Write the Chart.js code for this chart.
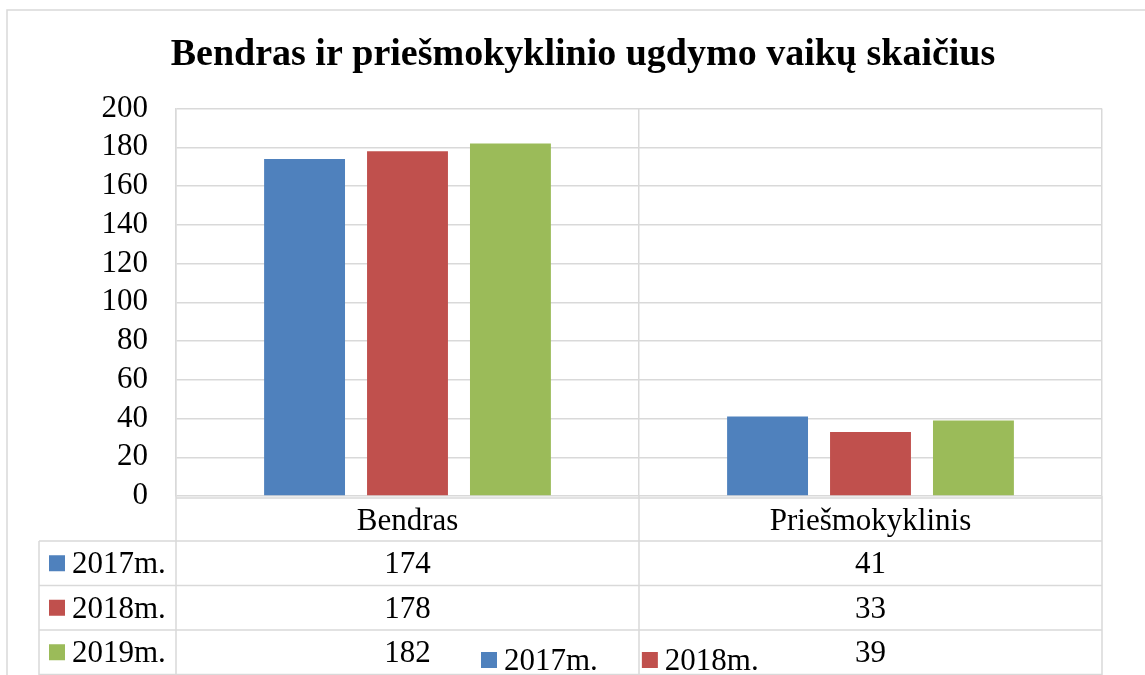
<!DOCTYPE html>
<html>
<head>
<meta charset="utf-8">
<script src="https://cdn.jsdelivr.net/npm/chart.js@4"></script>
<style>
  html, body { margin: 0; padding: 0; background: #fff; }
  #wrap { width: 1145px; height: 675px; }
</style>
</head>
<body>
<div id="wrap"><canvas id="chart" width="1145" height="675"></canvas></div>
<script>
// ---------- Data ----------
const categories = ["Bendras", "Priešmokyklinis"];
const years = ["2017m.", "2018m.", "2019m."];
const values2017 = [174, 41];
const values2018 = [178, 33];
const values2019 = [182, 39];
const yMin = 0, yMax = 200, yStep = 20;
const titleText = "Bendras ir priešmokyklinio ugdymo vaikų skaičius";

const colors = ["#4F81BD", "#C0504D", "#9BBB59"];
const gridColor = "#d9d9d9";
const serif = "'Liberation Serif', 'Times New Roman', serif";
const textSize = 31;

// ---------- Data table + frame plugin ----------
const tablePlugin = {
  id: "dataTable",
  beforeDraw(chart) {
    const ctx = chart.ctx;
    ctx.save();
    ctx.fillStyle = "#fff";
    ctx.fillRect(0, 0, chart.width, chart.height);
    ctx.strokeStyle = gridColor;
    ctx.lineWidth = 1.5;
    ctx.beginPath();
    ctx.moveTo(7, chart.height);
    ctx.lineTo(7, 10);
    ctx.lineTo(chart.width, 10);
    ctx.stroke();
    ctx.restore();
  },
  afterDraw(chart) {
    const ctx = chart.ctx;
    const area = chart.chartArea;
    const xs = chart.scales.x;
    const ds = chart.data.datasets;
    const bottom = chart.height;
    const tableTop = area.bottom + 2;
    const headerH = 43;
    const rowH = 44.5;
    const tableLeft = 39;
    const textDy = 2;
    const centers = categories.map((c, i) => xs.getPixelForValue(i));
    const bounds = [area.left];
    for (let i = 0; i < centers.length - 1; i++) bounds.push((centers[i] + centers[i + 1]) / 2);
    bounds.push(area.right);

    ctx.save();
    ctx.strokeStyle = gridColor;
    ctx.lineWidth = 1.5;
    ctx.beginPath();
    ctx.moveTo(area.left, tableTop);
    ctx.lineTo(area.right, tableTop);
    for (let r = 0; r <= ds.length; r++) {
      const y = tableTop + headerH + r * rowH;
      ctx.moveTo(tableLeft, y);
      ctx.lineTo(area.right, y);
    }
    bounds.forEach((bx) => {
      ctx.moveTo(bx, area.bottom);
      ctx.lineTo(bx, bottom);
    });
    ctx.moveTo(tableLeft, tableTop + headerH);
    ctx.lineTo(tableLeft, bottom);
    ctx.stroke();

    ctx.fillStyle = "#000";
    ctx.font = textSize + "px " + serif;
    ctx.textBaseline = "middle";
    ctx.textAlign = "center";
    categories.forEach((c, i) => ctx.fillText(c, centers[i], tableTop + headerH / 2 + textDy));

    ds.forEach((d, r) => {
      const yc = tableTop + headerH + r * rowH + rowH / 2;
      ctx.fillStyle = d.backgroundColor;
      ctx.fillRect(49, yc - 8, 16, 16);
      ctx.fillStyle = "#000";
      ctx.textAlign = "left";
      ctx.fillText(d.label, 72, yc + textDy);
      ctx.textAlign = "center";
      d.data.forEach((v, i) => ctx.fillText(String(v), centers[i], yc + textDy));
    });

    // legend (cut off at the bottom edge, two items per row)
    let lx = 481, ly = 660;
    ds.forEach((d, i) => {
      if (i > 0 && i % 2 === 0) { lx = 481; ly += 40; }
      ctx.fillStyle = d.backgroundColor;
      ctx.fillRect(lx, ly - 8, 16, 16);
      ctx.fillStyle = "#000";
      ctx.textAlign = "left";
      ctx.fillText(d.label, lx + 23, ly + textDy);
      lx += 23 + ctx.measureText(d.label).width + 44;
    });
    ctx.restore();
  },
};

// ---------- Chart ----------
new Chart(document.getElementById("chart"), {
  type: "bar",
  data: {
    labels: categories,
    datasets: [
      { label: years[0], data: values2017, backgroundColor: colors[0] },
      { label: years[1], data: values2018, backgroundColor: colors[1] },
      { label: years[2], data: values2019, backgroundColor: colors[2] },
    ],
  },
  options: {
    responsive: false,
    animation: false,
    devicePixelRatio: 1,
    layout: { padding: { left: 64, right: 43, top: 0, bottom: 0 } },
    datasets: { bar: { categoryPercentage: 0.667, barPercentage: 0.786 } },
    plugins: {
      legend: { display: false },
      tooltip: { enabled: false },
      title: {
        display: true,
        text: titleText,
        color: "#000",
        font: { family: serif, size: 38, weight: "bold", lineHeight: 1.2 },
        padding: { top: 32, bottom: 31 },
      },
    },
    scales: {
      x: {
        ticks: { display: false },
        grid: { color: gridColor, lineWidth: 1.5, drawTicks: false },
        border: { display: false },
        afterFit: (s) => { s.height = 179; },
      },
      y: {
        min: yMin,
        max: yMax,
        ticks: { stepSize: yStep, autoSkip: false, color: "#000", padding: 28, font: { family: serif, size: textSize } },
        grid: { color: gridColor, lineWidth: 1.5, drawTicks: false },
        border: { color: gridColor, width: 1.5 },
        afterFit: (s) => { s.width = 112; },
      },
    },
  },
  plugins: [tablePlugin],
});
</script>
</body>
</html>
